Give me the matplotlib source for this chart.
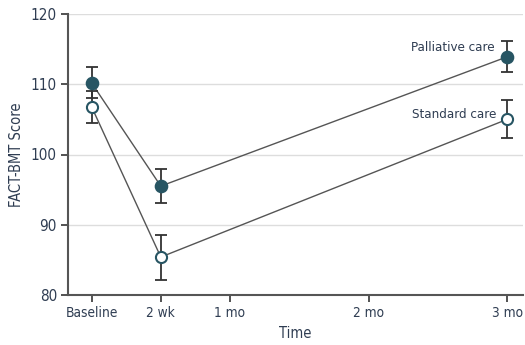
import matplotlib
matplotlib.use("Agg")
import matplotlib.pyplot as plt
from matplotlib import font_manager

fams = {f.name for f in font_manager.fontManager.ttflist}
font = "Liberation Sans Narrow" if "Liberation Sans Narrow" in fams else "DejaVu Sans"
plt.rcParams['font.family'] = [font, 'DejaVu Sans']
plt.rcParams['font.stretch'] = 'condensed'

time_pos = [0, 0.5, 3]
tick_pos = [0, 0.5, 1, 2, 3]
tick_labels = ["Baseline", "2 wk", "1 mo", "2 mo", "3 mo"]
palliative = [110.2, 95.5, 113.9]
palliative_err = [2.2, 2.4, 2.2]
standard = [106.8, 85.4, 105.0]
standard_err = [2.3, 3.2, 2.7]

text_c = "#2f3d52"
fig = plt.figure(figsize=(5.25, 3.45), dpi=100)
ax = fig.add_axes([68/525, 50/345, 455/525, 281/345])

for y in [90, 100, 110, 120]:
    ax.axhline(y, color="#dddddd", lw=1.0, zorder=0)

ax.plot(time_pos, palliative, color="#555555", lw=1.0, zorder=2)
ax.plot(time_pos, standard, color="#555555", lw=1.0, zorder=2)
ax.errorbar(time_pos, palliative, yerr=palliative_err, fmt="none", ecolor="#333333",
            elinewidth=1.3, capsize=4.5, capthick=1.3, zorder=3)
ax.errorbar(time_pos, standard, yerr=standard_err, fmt="none", ecolor="#333333",
            elinewidth=1.3, capsize=4.5, capthick=1.3, zorder=3)
ax.plot(time_pos, palliative, "o", ms=8.5, mfc="#275563", mec="#275563", mew=1.3, zorder=4)
ax.plot(time_pos, standard, "o", ms=8, mfc="white", mec="#275563", mew=1.5, zorder=4)

ax.text(2.91, 115.2, "Palliative care", ha="right", va="center", fontsize=9.5, color=text_c)
ax.text(2.92, 105.7, "Standard care", ha="right", va="center", fontsize=9.5, color=text_c)

ax.set_xlim(-0.17, 3.115)
ax.set_ylim(80, 120)
ax.set_yticks([80, 90, 100, 110, 120])
ax.set_xticks(tick_pos)
ax.set_xticklabels(tick_labels)
ax.tick_params(axis="both", colors="#444444", labelcolor=text_c, labelsize=9.8, length=5, width=1.3, pad=3)
ax.tick_params(axis="y", labelsize=11)
for s in ["top", "right"]:
    ax.spines[s].set_visible(False)
for s in ["left", "bottom"]:
    ax.spines[s].set_color("#555555")
    ax.spines[s].set_linewidth(1.5)
ax.set_ylabel("FACT-BMT Score", fontsize=10.5, color=text_c, labelpad=5)
ax.set_xlabel("Time", fontsize=10.5, color=text_c, labelpad=4)

fig.savefig("out.png", dpi=100)
